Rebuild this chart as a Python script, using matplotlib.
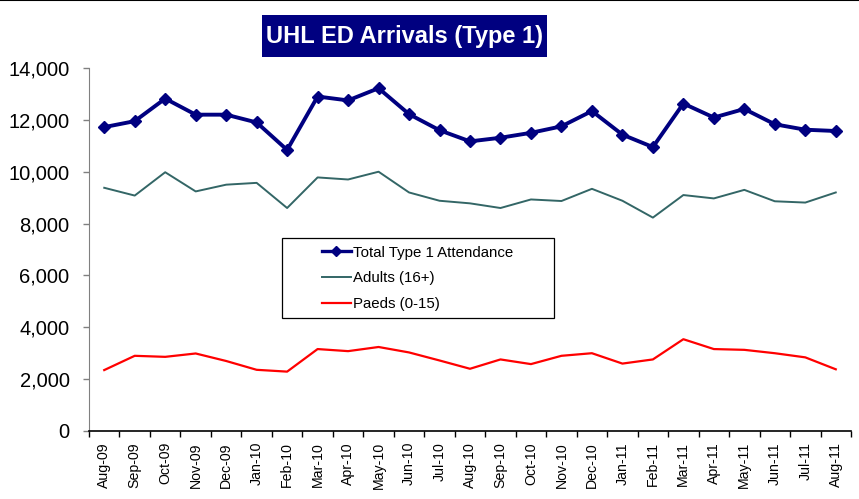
import matplotlib
matplotlib.use("Agg")
import matplotlib.pyplot as plt
from matplotlib.ticker import FuncFormatter, FixedLocator
from matplotlib.patches import Rectangle
import numpy as np

plt.rcParams['font.family'] = ['Liberation Sans', 'DejaVu Sans']

months = ["Aug-09", "Sep-09", "Oct-09", "Nov-09", "Dec-09", "Jan-10", "Feb-10",
          "Mar-10", "Apr-10", "May-10", "Jun-10", "Jul-10", "Aug-10", "Sep-10",
          "Oct-10", "Nov-10", "Dec-10", "Jan-11", "Feb-11", "Mar-11", "Apr-11",
          "May-11", "Jun-11", "Jul-11", "Aug-11"]

total = [11720, 11950, 12820, 12200, 12200, 11900, 10840, 12900, 12750, 13220,
         12220, 11600, 11170, 11310, 11500, 11750, 12340, 11430, 10950, 12630,
         12090, 12420, 11830, 11620, 11570]

adults = [9380, 9080, 9980, 9240, 9500, 9570, 8600, 9780, 9700, 10000,
          9200, 8880, 8780, 8600, 8930, 8870, 9340, 8880, 8230, 9100,
          8970, 9300, 8860, 8810, 9200]

paeds = [2350, 2900, 2860, 2990, 2700, 2360, 2290, 3160, 3080, 3240,
         3030, 2720, 2400, 2760, 2580, 2900, 3000, 2600, 2760, 3540,
         3160, 3130, 3000, 2840, 2380]

W, H = 859, 499
fig = plt.figure(figsize=(W / 100, H / 100), dpi=100)
AX_L, AX_R, AX_T, AX_B = 89, 851, 68, 431
ax = fig.add_axes([AX_L / W, 1 - AX_B / H, (AX_R - AX_L) / W, (AX_B - AX_T) / H])

def axx(px):
    return (px - AX_L) / (AX_R - AX_L)

def axy(py):
    return (AX_B - py) / (AX_B - AX_T)

x = np.arange(len(months))
ax.plot(x, total, color='#000080', lw=2.8, marker='D', ms=6.5,
        label='Total Type 1 Attendance', zorder=3)
ax.plot(x, adults, color='#336666', lw=1.4, label='Adults (16+)', zorder=2)
ax.plot(x, paeds, color='#ff0000', lw=1.6, label='Paeds (0-15)', zorder=2)

ax.set_ylim(0, 14000)
ax.set_xlim(-0.5, len(months) - 0.5)
ax.set_yticks(np.arange(0, 14001, 2000))
ax.yaxis.set_major_formatter(FuncFormatter(lambda v, p: f"{int(v):,}"))
ax.tick_params(axis='y', labelsize=14.5, length=4, color='#808080', width=1, pad=10)

ax.set_xticks(x)
ax.set_xticklabels(months, rotation=90, fontsize=10.2)
ax.xaxis.set_minor_locator(FixedLocator(np.arange(-0.5, len(months), 1.0)))
ax.tick_params(axis='x', which='major', length=0, pad=8)
ax.tick_params(axis='x', which='minor', length=4, width=1, color='black')

for s in ['top', 'right']:
    ax.spines[s].set_visible(False)
ax.spines['left'].set_color('#808080')
ax.spines['bottom'].set_color('black')
ax.spines['bottom'].set_linewidth(1.2)

# legend frame
ax.add_patch(Rectangle((axx(281.7), axy(318)), axx(554) - axx(281.7), axy(237.7) - axy(318),
                       transform=ax.transAxes, facecolor='white', edgecolor='black',
                       lw=0.9, clip_on=False, zorder=4))
leg = ax.legend(loc='center left', bbox_to_anchor=(axx(321.7), axy(278.3)),
                fontsize=10.8, frameon=False, borderpad=0, labelspacing=0.78,
                handlelength=1.93, handletextpad=0.18, borderaxespad=0)
leg.set_zorder(5)
leg.legend_handles[0].set_markersize(5)
leg.legend_handles[0].set_linewidth(2.4)

# title box
fig.add_artist(Rectangle((262 / W, 1 - 57 / H), (547 - 262) / W, (57 - 15) / H,
                         transform=fig.transFigure, facecolor='#000080', edgecolor='none'))
fig.text(405 / W, 1 - 36.5 / H, "UHL ED Arrivals (Type 1)", color='white',
         fontsize=17, fontweight='bold', ha='center', va='center')

fig.add_artist(plt.Line2D([0, 1], [0.999, 0.999], color='black', lw=1.5,
                          transform=fig.transFigure))

fig.savefig("out.png", dpi=100, facecolor='white')
